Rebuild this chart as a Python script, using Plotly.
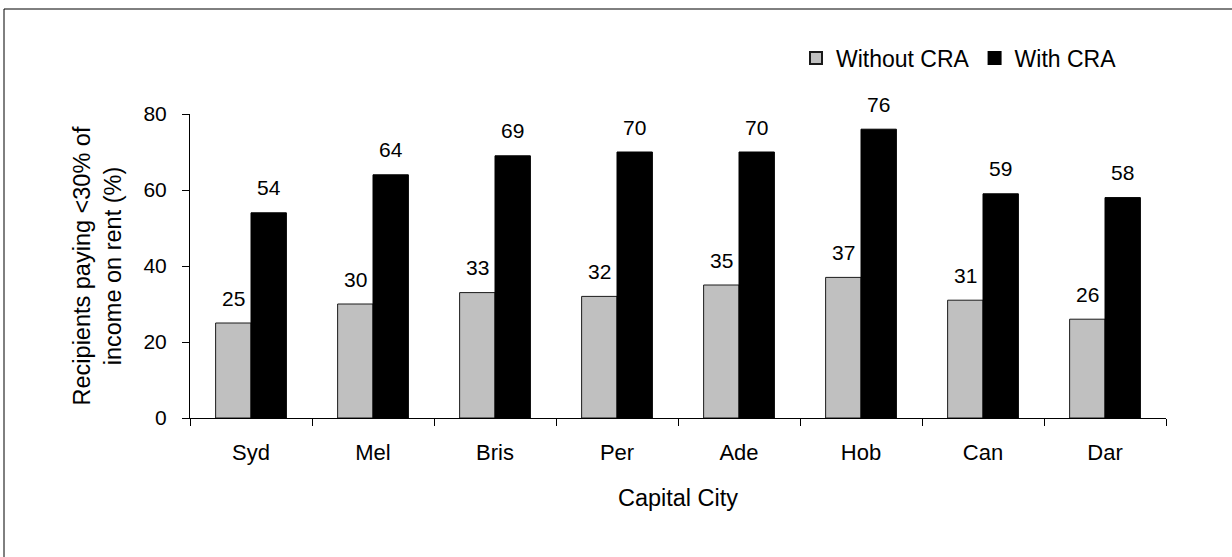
import plotly.graph_objects as go

cities = ["Syd", "Mel", "Bris", "Per", "Ade", "Hob", "Can", "Dar"]
without_cra = [25, 30, 33, 32, 35, 37, 31, 26]
with_cra = [54, 64, 69, 70, 70, 76, 59, 58]
y_ticks = [0, 20, 40, 60, 80]

FONT = "Liberation Sans, Arial, sans-serif"

fig = go.Figure()
fig.add_trace(go.Bar(x=cities, y=without_cra, name="Without CRA",
                     marker=dict(color="#C0C0C0", line=dict(color="#1a1a1a", width=1))))
fig.add_trace(go.Bar(x=cities, y=with_cra, name="With CRA",
                     marker=dict(color="#000000", line=dict(color="#000000", width=1))))

ann = []
for c, v in zip(cities, without_cra):
    ann.append(dict(x=c, y=v, text=str(v), xshift=-17.75, yshift=25, showarrow=False,
                    xanchor="center", yanchor="middle", font=dict(size=21, color="black", family=FONT)))
for c, v in zip(cities, with_cra):
    ann.append(dict(x=c, y=v, text=str(v), xshift=17.75, yshift=25, showarrow=False,
                    xanchor="center", yanchor="middle", font=dict(size=21, color="black", family=FONT)))

W, H = 1232, 557
L, R, T, B = 190, 66, 114, 139
pw, ph = W - L - R, H - T - B

def px_to_paper_x(px):
    return (px - L) / pw

def px_to_paper_y(py):
    return (H - B - py) / ph

shapes = [dict(type="rect", xref="paper", yref="paper",
               x0=px_to_paper_x(4), x1=px_to_paper_x(1245),
               y0=px_to_paper_y(570), y1=px_to_paper_y(9),
               line=dict(color="black", width=1), fillcolor="rgba(0,0,0,0)", layer="below")]

fig.update_layout(
    width=W, height=H,
    margin=dict(l=L, r=R, t=T, b=B, pad=0),
    paper_bgcolor="white", plot_bgcolor="white",
    barmode="group", bargap=0.42, bargroupgap=0,
    font=dict(family=FONT, size=21, color="black"),
    showlegend=True,
    legend=dict(orientation="h", x=px_to_paper_x(1122), xanchor="right",
                y=px_to_paper_y(58), yanchor="middle",
                font=dict(size=23, family=FONT), bgcolor="rgba(0,0,0,0)",
                itemsizing="constant", traceorder="normal"),
    annotations=ann,
    shapes=shapes,
    xaxis=dict(showline=True, linecolor="black", linewidth=1,
               ticks="outside", ticklen=7, tickcolor="black", tickson="boundaries",
               ticklabelstandoff=15,
               title=dict(text="Capital City", standoff=25, font=dict(size=23.5)),
               tickfont=dict(size=22), showgrid=False),
    yaxis=dict(range=[0, 80], tickvals=y_ticks, showline=True, linecolor="black", linewidth=1,
               ticks="outside", ticklen=7, tickcolor="black", showgrid=False, zeroline=False,
               tickfont=dict(size=21), ticklabelstandoff=11,
               title=dict(text="Recipients paying <30% of<br>income on rent (%)", standoff=15,
                          font=dict(size=23.5))),
)

fig.write_html("out.html")
